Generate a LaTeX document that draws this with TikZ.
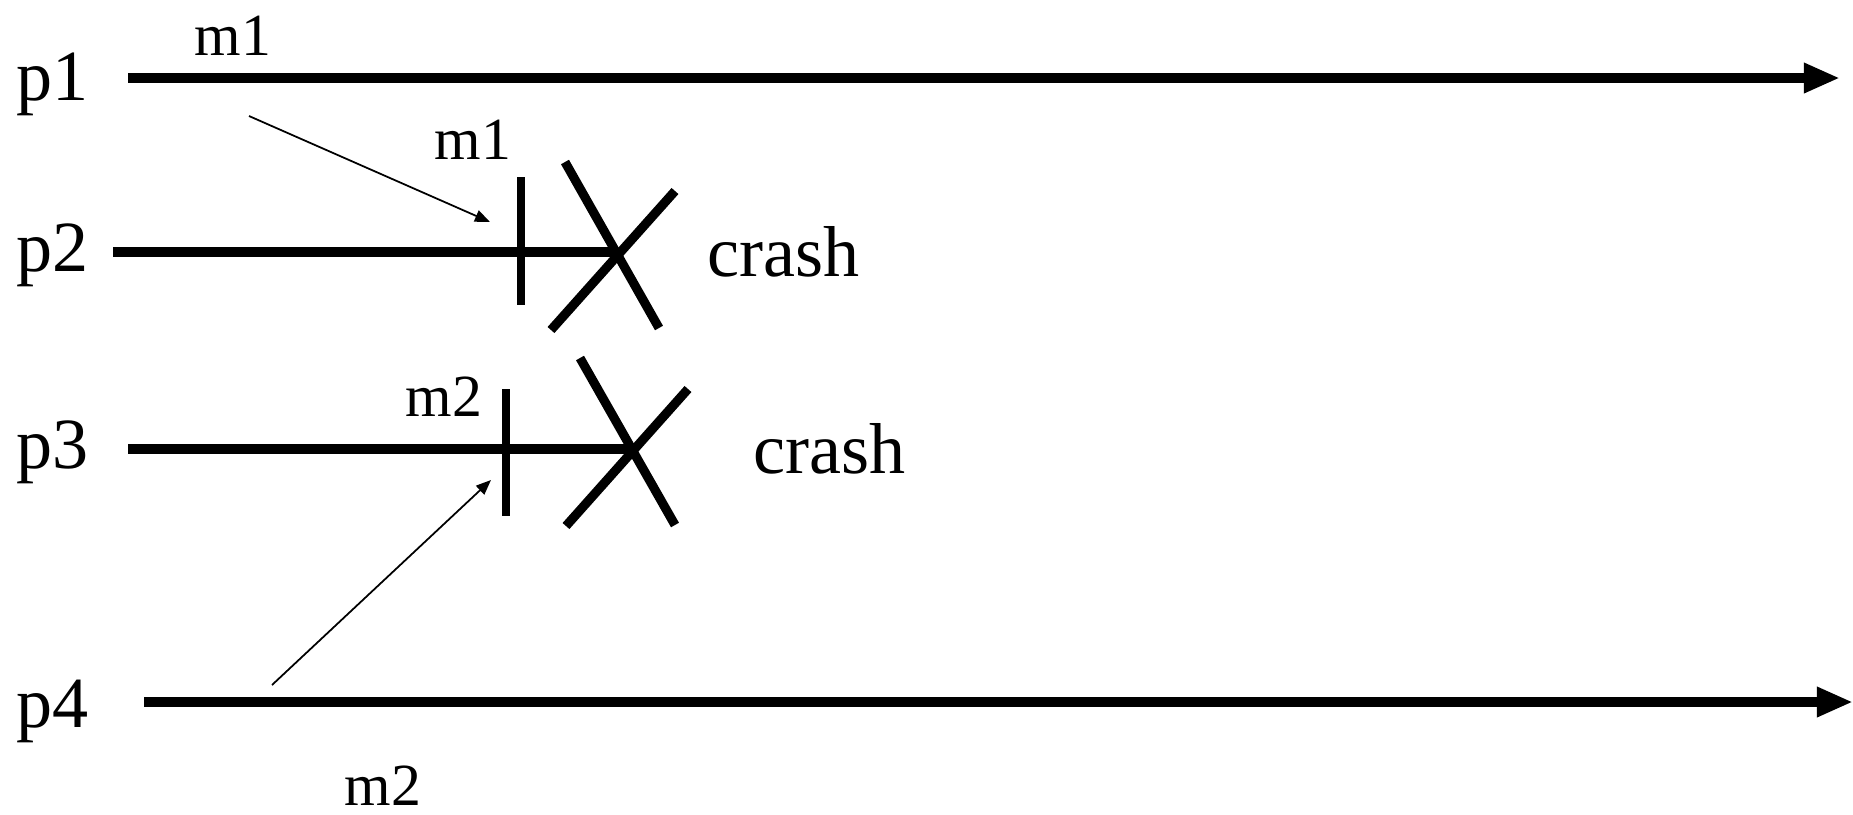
\documentclass[tikz,border=0pt]{standalone}
\usepackage{fontspec}
\setmainfont{Liberation Serif}
\usetikzlibrary{arrows.meta}

\begin{document}
\begin{tikzpicture}[
                x=0.01cm, y=-0.01cm,
                proc/.style={line width=3pt},
                msg/.style={-{Triangle[length=0.15cm, width=0.12cm]}, line width=0.5pt},
                tickmark/.style={line width=2pt},
                cross/.style={line width=2.6pt},
                plabel/.style={font=\fontsize{20.5}{24}\selectfont, inner sep=0pt},
                mlabel/.style={font=\fontsize{17}{20}\selectfont, inner sep=0pt}
            ]
            \useasboundingbox (0,0) rectangle (1853,814);

            % process names
            \node[plabel] (p1) at (53,84) {p1};
            \node[plabel] (p2) at (53,255) {p2};
            \node[plabel] (p3) at (53,452) {p3};
            \node[plabel] (p4) at (53,711) {p4};

            % process lines
            \coordinate (p1s) at (128,78);
            \coordinate (p1e) at (1840,78);
            \coordinate (p2s) at (113,252);
            \coordinate (p2e) at (615,252);
            \coordinate (p3s) at (128,449);
            \coordinate (p3e) at (631,449);
            \coordinate (p4s) at (144,702);
            \coordinate (p4e) at (1853,702);

            \draw[proc, -{Triangle[length=0.36cm, width=0.28cm]}] (p1s) -- (p1e);
            \draw[proc] (p2s) -- (p2e);
            \draw[proc] (p3s) -- (p3e);
            \draw[proc, -{Triangle[length=0.36cm, width=0.28cm]}] (p4s) -- (p4e);

            % receive marks
            \draw[tickmark] (521,177) -- (521,305);
            \draw[tickmark] (506,389) -- (506,516);

            % crashes
            \draw[cross] (565,162) -- (659,328);
            \draw[cross] (675,191) -- (551,330);
            \draw[cross] (580,358) -- (675,525);
            \draw[cross] (688,389) -- (566,526);
            \node[plabel, anchor=west] (c2) at (707,252) {crash};
            \node[plabel, anchor=west] (c3) at (753,449) {crash};

            % messages
            \coordinate (m1s) at (249,116);
            \coordinate (m1e) at (490,222);
            \coordinate (m2s) at (272,685);
            \coordinate (m2e) at (491,480);
            \draw[msg] (m1s) -- (m1e);
            \draw[msg] (m2s) -- (m2e);

            \node[mlabel] (m1a) at (233,36) {m1};
            \node[mlabel] (m1b) at (473,140) {m1};
            \node[mlabel] (m2a) at (444,397) {m2};
            \node[mlabel] (m2b) at (383,786) {m2};
        \end{tikzpicture}
\end{document}
